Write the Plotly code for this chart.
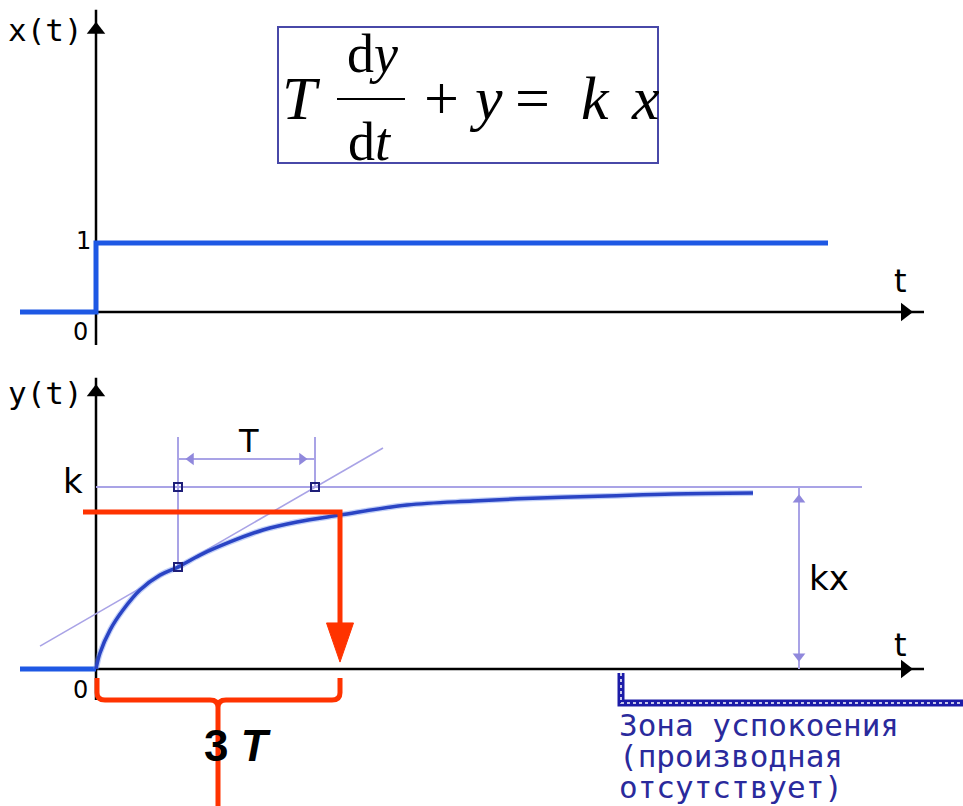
import plotly.graph_objects as go

# ---------------- data ----------------
# input step x(t)
step_t = [-0.76, 0.0, 0.0, 7.32]
step_x = [0, 0, 1, 1]

# output y(t) (first-order response)
pre_t = [-0.76, 0.0]
pre_y = [0, 0]
curve_t = [0.0, 0.04, 0.14, 0.27, 0.44, 0.64, 0.82, 1.04, 1.34, 1.67, 2.01,
           2.44, 3.11, 3.77, 4.44, 5.11, 5.77, 6.57]
curve_y = [0.0, 0.088, 0.214, 0.324, 0.434, 0.516, 0.560, 0.626, 0.698, 0.764,
           0.808, 0.846, 0.901, 0.923, 0.940, 0.951, 0.962, 0.967]

K = 1.0
k_line_t = [0.0, 7.66]
T_START = 0.82          # tangent point
T_END = 2.19            # tangent reaches k
T_POINT_Y = 0.56
tangent_t = [-0.56, 2.87]
tangent_y = [0.126, 1.214]
DIM_TOP = 1.275
DIM_T_LEVEL = 1.154
KX_T = 7.03
THREE_T = 2.44
RED_LEVEL = 0.863
ZONE_T = 5.25
AXIS_END = 8.28

top_ticks = [0, 1]
top_tick_text = ["0", "1"]
bot_ticks = [0, K]
bot_tick_text = ["0", "k"]
zone_lines = ["Зона успокоения", "(производная", "отсутствует)"]

# ---------------- styles ----------------
BLUE = "#1e58e4"
CURVE = "#2a44c4"
LAV = "#a9a3e6"
LAV_D = "#9088dc"
NAVY_M = "#1e1e78"
RED = "#ff3300"
NAVY = "#1c1ca8"
ZONE_TXT = "#2a2a9c"
SANS = "DejaVu Sans"
MONO = "DejaVu Sans Mono"
SERIF = "Liberation Serif"

fig = go.Figure()

def line(t, v, color, width, yaxis="y", dash=None, shape="linear"):
    fig.add_trace(go.Scatter(x=t, y=v, mode="lines", yaxis=yaxis,
                             line=dict(color=color, width=width, dash=dash,
                                       shape=shape),
                             hoverinfo="skip", showlegend=False))

def marks(t, v, symbol, size, color, yaxis="y", lw=0, fill=None):
    fig.add_trace(go.Scatter(x=t, y=v, mode="markers", yaxis=yaxis,
                             marker=dict(symbol=symbol, size=size,
                                         color=fill if fill else color,
                                         line=dict(color=color, width=lw)),
                             hoverinfo="skip", showlegend=False))

# ---- top panel axes ----
line([0, AXIS_END], [0, 0], "black", 2.5)
line([0, 0], [-0.48, 4.38], "black", 2.5)
marks([8.09], [0], "triangle-right", 16, "black")
marks([0], [4.09], "triangle-up", 16, "black")
# step
line(step_t, step_x, BLUE, 5)

# ---- bottom panel ----
line([0, AXIS_END], [0, 0], "black", 2.5, "y2")
line([0, 0], [-0.17, 1.60], "black", 2.5, "y2")
marks([8.09], [0], "triangle-right", 16, "black", "y2")
marks([0], [1.52], "triangle-up", 16, "black", "y2")

line(k_line_t, [K, K], LAV, 2, "y2")
line(tangent_t, tangent_y, LAV, 1.6, "y2")
line([T_START, T_START], [T_POINT_Y, DIM_TOP], LAV, 2, "y2")
line([T_END, T_END], [K, DIM_TOP], LAV, 2, "y2")
line([T_START, T_END], [DIM_T_LEVEL, DIM_T_LEVEL], LAV, 2, "y2")
marks([T_START + 0.13], [DIM_T_LEVEL], "triangle-left", 11, LAV_D, "y2")
marks([T_END - 0.13], [DIM_T_LEVEL], "triangle-right", 11, LAV_D, "y2")
line([KX_T, KX_T], [0, K], LAV, 2, "y2")
marks([KX_T], [K - 0.07], "triangle-up", 11, LAV_D, "y2")
marks([KX_T], [0.07], "triangle-down", 11, LAV_D, "y2")

line(pre_t, pre_y, BLUE, 5, "y2")
line(curve_t, curve_y, "rgba(120,150,240,0.45)", 6, "y2", shape="spline")
line(curve_t, curve_y, CURVE, 3.5, "y2", shape="spline")

marks([T_START, T_END, T_START], [K, K, T_POINT_Y], "square-open", 8, NAVY_M,
      "y2", lw=2)

# zone bracket (dotted navy)
line([ZONE_T, ZONE_T, 9.0], [-0.022, -0.187, -0.187], NAVY, 7, "y2")
line([ZONE_T, ZONE_T, 9.0], [-0.022, -0.187, -0.187], "white", 1.5, "y2", dash="dot")

# ---------------- shapes ----------------
shapes = []
# red 3T marker
shapes.append(dict(type="path", xref="x", yref="y2",
                   path=f"M -0.13,{RED_LEVEL} L {THREE_T},{RED_LEVEL} L {THREE_T},0.25",
                   line=dict(color=RED, width=5), fillcolor="rgba(0,0,0,0)"))
shapes.append(dict(type="path", xref="x", yref="y2",
                   path=f"M {THREE_T-0.135},0.253 L {THREE_T+0.135},0.253 L {THREE_T},0.038 Z",
                   line=dict(color=RED, width=1), fillcolor=RED))
mid = THREE_T / 2
b = -0.170
shapes.append(dict(type="path", xref="x", yref="y2",
                   path=(f"M 0.01,-0.05 L 0.01,{b+0.04} Q 0.01,{b} 0.09,{b} "
                         f"L {mid-0.08},{b} Q {mid},{b} {mid},{b-0.04} L {mid},-0.9 "
                         f"M {mid},{b-0.04} Q {mid},{b} {mid+0.08},{b} "
                         f"L {THREE_T-0.08},{b} Q {THREE_T},{b} {THREE_T},{b+0.04} L {THREE_T},-0.05"),
                   line=dict(color=RED, width=5), fillcolor="rgba(0,0,0,0)"))
# formula box and fraction bar
shapes.append(dict(type="rect", xref="x", yref="y", x0=1.82, x1=5.62, y0=2.159, y1=4.13,
                   line=dict(color="#4848a8", width=2), fillcolor="rgba(0,0,0,0)"))
shapes.append(dict(type="line", xref="x", yref="y", x0=2.41, x1=3.09, y0=3.087, y1=3.087,
                   line=dict(color="black", width=2)))

# ---------------- annotations ----------------
ann = []
def txt(t, v, s, size, yref="y", font=SANS, color="black", xanchor="center"):
    ann.append(dict(x=t, y=v, xref="x", yref=yref, text=s, showarrow=False,
                    xanchor=xanchor, yanchor="middle",
                    font=dict(family=font, size=size, color=color)))

txt(-0.51, 4.09, "x(t)", 31, font=MONO)
txt(-0.13, top_ticks[1] + 0.03, top_tick_text[1], 24)
txt(-0.16, top_ticks[0] - 0.29, top_tick_text[0], 24)
txt(8.04, 0.45, "t", 32)

txt(-0.51, 1.516, "y(t)", 31, yref="y2", font=MONO)
txt(-0.23, bot_ticks[1] + 0.033, bot_tick_text[1], 34, yref="y2")
txt(-0.16, bot_ticks[0] - 0.115, bot_tick_text[0], 24, yref="y2")
txt(8.04, 0.13, "t", 32, yref="y2")
txt(1.52, 1.253, "T", 32, yref="y2")
txt(7.33, 0.50, "kx", 34, yref="y2")
txt(1.41, -0.418, "<b>3 <i>T</i></b>", 44, yref="y2", font="Liberation Sans")

for i, s in enumerate(zone_lines):
    txt(5.21, -0.310 - 0.170 * i, s, 31, yref="y2", font=MONO, color=ZONE_TXT,
        xanchor="left")

# formula
txt(2.05, 3.10, "<i>T</i>", 62, font=SERIF)
txt(2.76, 3.74, "d<i>y</i>", 54, font=SERIF)
txt(2.74, 2.46, "d<i>t</i>", 54, font=SERIF)
txt(3.45, 3.10, "+", 62, font=SERIF)
txt(3.90, 3.10, "<i>y</i>", 62, font=SERIF)
txt(4.36, 3.10, "=", 62, font=SERIF)
txt(4.99, 3.10, "<i>k</i>", 62, font=SERIF)
txt(5.49, 3.10, "<i>x</i>", 62, font=SERIF)

fig.update_layout(
    width=963, height=806,
    margin=dict(l=0, r=0, t=0, b=0),
    paper_bgcolor="white", plot_bgcolor="white",
    showlegend=False,
    xaxis=dict(range=[-0.96, 8.67], visible=False, fixedrange=True),
    yaxis=dict(range=[-7.1594, 4.5217], visible=False, domain=[0, 1], fixedrange=True),
    yaxis2=dict(range=[-0.7527, 3.6758], visible=False, overlaying="y", fixedrange=True),
    shapes=shapes,
    annotations=ann,
)

fig.write_html("out.html", config={"displayModeBar": False},
               post_script="document.body.style.margin='0';document.body.style.overflow='hidden';")
